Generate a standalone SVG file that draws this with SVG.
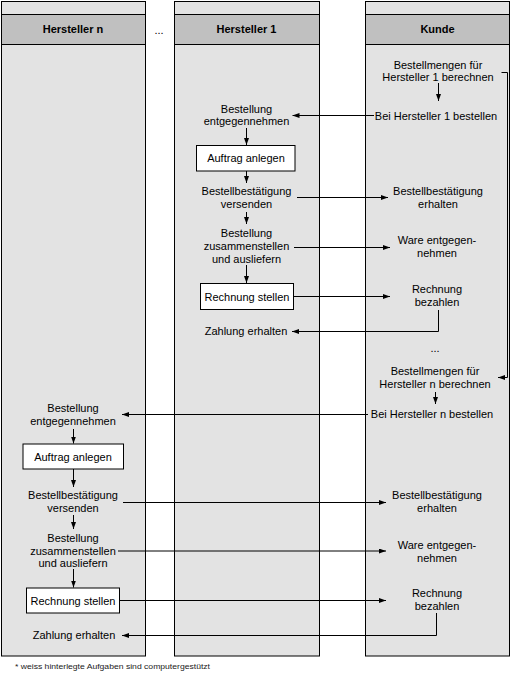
<svg xmlns="http://www.w3.org/2000/svg" width="510" height="684" viewBox="0 0 510 684">
<style>
.lane{fill:#e3e3e3;stroke:#000;stroke-width:1}
.head{fill:#c0c0c0;stroke:#000;stroke-width:1}
.box{fill:#fff;stroke:#000;stroke-width:1}
text{font-family:"Liberation Sans",Arial,sans-serif;font-size:11px;fill:#000;text-anchor:middle}
.ht{font-weight:bold}
.fn{font-size:7.5px;text-anchor:start;fill:#222}
.c{fill:none;stroke:#000;stroke-width:1}
</style>
<defs>
<marker id="arr" viewBox="0 0 7 5" refX="7" refY="2.5" markerWidth="7" markerHeight="5" markerUnits="userSpaceOnUse" orient="auto">
<path d="M0,0 L7,2.5 L0,5 z" fill="#000"/>
</marker>
</defs>
<rect width="510" height="684" fill="#fff"/>
<g id="lane-hn">
<rect class="lane" x="1.5" y="1.5" width="144" height="654.5"/>
<rect class="head" x="1.5" y="14.5" width="144" height="30"/>
<text class="ht" x="73" y="33">Hersteller n</text>
</g>
<g id="lane-dots"><text x="159" y="34">...</text></g>
<g id="lane-h1">
<rect class="lane" x="174.5" y="1.5" width="145" height="654.5"/>
<rect class="head" x="174.5" y="14.5" width="145" height="30"/>
<text class="ht" x="246.5" y="33">Hersteller 1</text>
</g>
<g id="lane-kunde">
<rect class="lane" x="365.5" y="1.5" width="144" height="654.5"/>
<rect class="head" x="365.5" y="14.5" width="144" height="30"/>
<text class="ht" x="437.5" y="33">Kunde</text>
</g>

<g id="connectors">
<path class="c" d="M501.5,72.5 H507.5 V377.5 H498" marker-end="url(#arr)"/>
<path class="c" d="M438.5,83 V101" marker-end="url(#arr)"/>
<path class="c" d="M374,115.5 H292.5" marker-end="url(#arr)"/>
<path class="c" d="M246.5,128 V145" marker-end="url(#arr)"/>
<path class="c" d="M246.5,171 V183" marker-end="url(#arr)"/>
<path class="c" d="M297,197.5 H388" marker-end="url(#arr)"/>
<path class="c" d="M246.5,212 V224" marker-end="url(#arr)"/>
<path class="c" d="M294,247.5 H390" marker-end="url(#arr)"/>
<path class="c" d="M246.5,265 V283" marker-end="url(#arr)"/>
<path class="c" d="M293,296.5 H390" marker-end="url(#arr)"/>
<path class="c" d="M438.5,310 V331.5 H292" marker-end="url(#arr)"/>
<path class="c" d="M435.5,392 V404" marker-end="url(#arr)"/>
<path class="c" d="M368,414.5 H122" marker-end="url(#arr)"/>
<path class="c" d="M73.5,429 V443.5" marker-end="url(#arr)"/>
<path class="c" d="M73.5,469 V487" marker-end="url(#arr)"/>
<path class="c" d="M123,502.5 H386" marker-end="url(#arr)"/>
<path class="c" d="M73.5,515 V529" marker-end="url(#arr)"/>
<path class="c" d="M118,551 H386" marker-end="url(#arr)"/>
<path class="c" d="M73.5,569 V587.5" marker-end="url(#arr)"/>
<path class="c" d="M119.5,600.5 H386" marker-end="url(#arr)"/>
<path class="c" d="M436.5,613 V635.5 H122" marker-end="url(#arr)"/>
</g>

<g id="k-mengen1"><text x="438" y="68.5">Bestellmengen für</text><text x="438" y="81">Hersteller 1 berechnen</text></g>
<g id="k-bestellen1"><text x="436" y="119.5">Bei Hersteller 1 bestellen</text></g>
<g id="h1-entgegen"><text x="246.5" y="112.5">Bestellung</text><text x="246.5" y="125">entgegennehmen</text></g>
<g id="h1-auftrag"><rect class="box" x="196.5" y="145.5" width="98.5" height="25.5"/><text x="246" y="162">Auftrag anlegen</text></g>
<g id="h1-bestaetigung"><text x="246.5" y="195">Bestellbestätigung</text><text x="246.5" y="208">versenden</text></g>
<g id="k-bestaetigung1"><text x="438" y="195">Bestellbestätigung</text><text x="438" y="208">erhalten</text></g>
<g id="h1-ausliefern"><text x="246.5" y="237">Bestellung</text><text x="246.5" y="250">zusammenstellen</text><text x="246.5" y="262.5">und ausliefern</text></g>
<g id="k-ware1"><text x="437" y="244">Ware entgegen-</text><text x="437" y="257">nehmen</text></g>
<g id="h1-rechnung"><rect class="box" x="200.5" y="283.5" width="93" height="26"/><text x="247" y="300.5">Rechnung stellen</text></g>
<g id="k-bezahlen1"><text x="437" y="293">Rechnung</text><text x="437" y="306">bezahlen</text></g>
<g id="h1-zahlung"><text x="246" y="335">Zahlung erhalten</text></g>
<g id="k-dots"><text x="435" y="352">...</text></g>
<g id="k-mengenn"><text x="435" y="375">Bestellmengen für</text><text x="435" y="388">Hersteller n berechnen</text></g>
<g id="k-bestellenn"><text x="432" y="418">Bei Hersteller n bestellen</text></g>
<g id="hn-entgegen"><text x="73" y="411.5">Bestellung</text><text x="73" y="424.5">entgegennehmen</text></g>
<g id="hn-auftrag"><rect class="box" x="23" y="444" width="100.5" height="25"/><text x="73" y="460.5">Auftrag anlegen</text></g>
<g id="hn-bestaetigung"><text x="73" y="499">Bestellbestätigung</text><text x="73" y="512">versenden</text></g>
<g id="k-bestaetigungn"><text x="437" y="499">Bestellbestätigung</text><text x="437" y="512">erhalten</text></g>
<g id="hn-ausliefern"><text x="73" y="541.5">Bestellung</text><text x="73" y="554.5">zusammenstellen</text><text x="73" y="567">und ausliefern</text></g>
<g id="k-waren"><text x="437" y="549">Ware entgegen-</text><text x="437" y="561.5">nehmen</text></g>
<g id="hn-rechnung"><rect class="box" x="26.5" y="588" width="93" height="25"/><text x="73" y="604.5">Rechnung stellen</text></g>
<g id="k-bezahlenn"><text x="437" y="596.5">Rechnung</text><text x="437" y="609.5">bezahlen</text></g>
<g id="hn-zahlung"><text x="74" y="639">Zahlung erhalten</text></g>
<g id="footnote"><text class="fn" x="15" y="668.5" textLength="195" lengthAdjust="spacingAndGlyphs">* weiss hinterlegte Aufgaben sind computergestützt</text></g>
</svg>
